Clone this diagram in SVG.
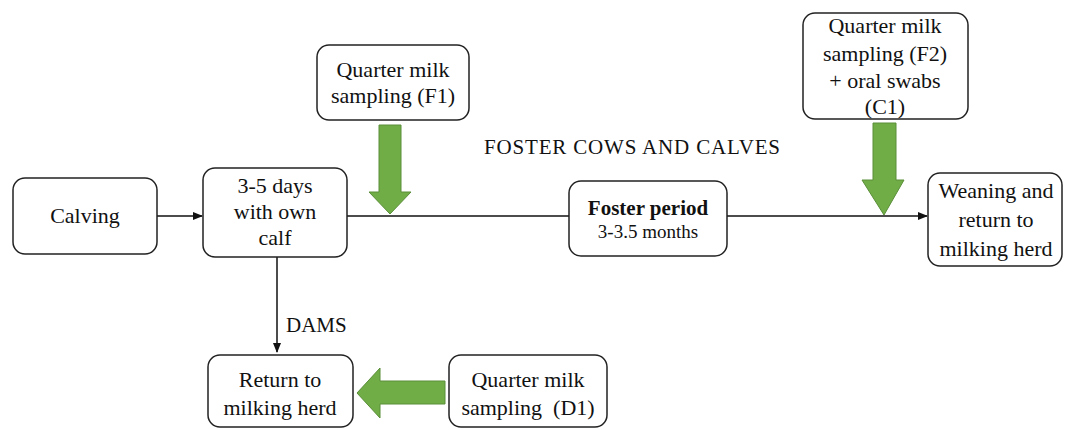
<svg xmlns="http://www.w3.org/2000/svg" width="1067" height="430" viewBox="0 0 1067 430">
<defs>
<style>
.box{fill:#fff;stroke:#222;stroke-width:1.5}
.t{font-family:"Liberation Serif","Times New Roman",serif;font-size:22px;fill:#111;text-anchor:middle}
.b{font-weight:bold;font-size:21px}
.s{font-size:19px}
.lab{font-size:21px}
.line{stroke:#111;stroke-width:1.5;fill:none}
.green{fill:#70AD47;stroke:#5A8E38;stroke-width:1}
</style>
<marker id="ah" markerWidth="10" markerHeight="10" refX="9" refY="5" orient="auto" markerUnits="userSpaceOnUse">
<path d="M0,1 L10,5 L0,9 Z" fill="#111"/>
</marker>
</defs>
<rect width="1067" height="430" fill="#fff"/>
<g id="connectors">
<line class="line" x1="157" y1="216" x2="202" y2="216" marker-end="url(#ah)"/>
<line class="line" x1="347" y1="216" x2="569" y2="216"/>
<line class="line" x1="727" y1="216" x2="927" y2="216" marker-end="url(#ah)"/>
<line class="line" x1="277" y1="257" x2="277" y2="352" marker-end="url(#ah)"/>
<text class="t lab" x="286" y="332" style="text-anchor:start">DAMS</text>
<text class="t lab" x="632" y="154" textLength="296">FOSTER COWS AND CALVES</text>
<polygon id="arrowF1" class="green" points="379,125 401,125 401,192 411,192 390,214 369,192 379,192"/>
<polygon id="arrowF2" class="green" points="873,123 896,123 896,180 904,180 884,215 862,180 873,180"/>
<polygon id="arrowD1" class="green" points="445,381 380,381 380,368 357,393 380,418 380,404 445,404"/>
</g>
<g id="calving">
<rect class="box" x="13" y="178" width="144" height="76" rx="12"/>
<text class="t" x="85" y="223">Calving</text>
</g>
<g id="own-calf">
<rect class="box" x="203" y="168" width="144" height="89" rx="12"/>
<text class="t" x="275" y="193">3-5 days</text>
<text class="t" x="275" y="219">with own</text>
<text class="t" x="275" y="245">calf</text>
</g>
<g id="f1">
<rect class="box" x="317" y="45" width="152" height="75" rx="12"/>
<text class="t" x="393" y="77">Quarter milk</text>
<text class="t" x="393" y="103">sampling (F1)</text>
</g>
<g id="foster">
<rect class="box" x="569" y="181" width="158" height="75" rx="12"/>
<text class="t b" x="648" y="215">Foster period</text>
<text class="t s" x="648" y="238">3-3.5 months</text>
</g>
<g id="f2">
<rect class="box" x="803" y="13" width="165" height="106" rx="12"/>
<text class="t" x="885" y="33">Quarter milk</text>
<text class="t" x="885" y="61">sampling (F2)</text>
<text class="t" x="885" y="88">+ oral swabs</text>
<text class="t" x="885" y="114">(C1)</text>
</g>
<g id="weaning">
<rect class="box" x="928" y="173" width="134" height="93" rx="12"/>
<text class="t" x="996" y="198">Weaning and</text>
<text class="t" x="996" y="227">return to</text>
<text class="t" x="996" y="256">milking herd</text>
</g>
<g id="return">
<rect class="box" x="208" y="355" width="145" height="72" rx="12"/>
<text class="t" x="280" y="387">Return to</text>
<text class="t" x="280" y="415">milking herd</text>
</g>
<g id="d1">
<rect class="box" x="449" y="355" width="158" height="72" rx="12"/>
<text class="t" x="528" y="387">Quarter milk</text>
<text class="t" x="528" y="415" xml:space="preserve">sampling  (D1)</text>
</g>
</svg>
